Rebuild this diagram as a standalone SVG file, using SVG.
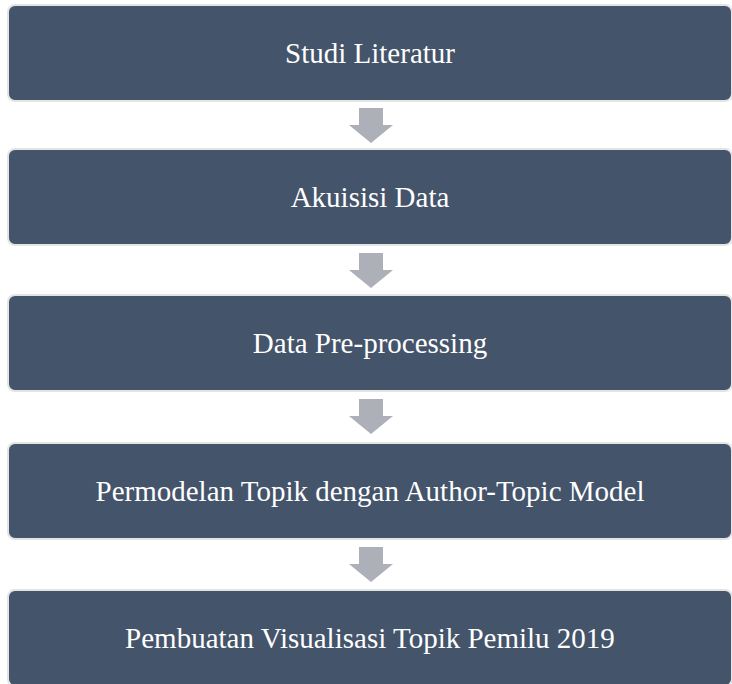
<svg xmlns="http://www.w3.org/2000/svg" width="732" height="684" viewBox="0 0 732 684">
  <defs>
    <style>
      .box { fill: #44546a; stroke: #e4e4e4; stroke-width: 2; }
      .label { font-family: "Liberation Serif", "Times New Roman", serif; font-size: 29px; fill: #ffffff; text-anchor: middle; }
      .arrow { fill: #adb0b8; }
    </style>
    <!-- block arrow pointing down, origin at top-centre -->
    <path id="down" d="M-12,0 H12 V17 H22 L0,35 L-22,17 H-12 Z"/>
  </defs>
  <rect width="732" height="684" fill="#ffffff"/>

  <g id="connectors">
    <use href="#down" class="arrow" x="371" y="108"/>
    <use href="#down" class="arrow" x="371" y="253"/>
    <use href="#down" class="arrow" x="371" y="399"/>
    <use href="#down" class="arrow" x="371" y="547"/>
  </g>

  <g id="studi-literatur">
    <rect class="box" x="8" y="5" width="724" height="96" rx="7"/>
    <text class="label" x="370" y="63">Studi Literatur</text>
  </g>
  <g id="akuisisi-data">
    <rect class="box" x="8" y="149" width="724" height="96" rx="7"/>
    <text class="label" x="370" y="207">Akuisisi Data</text>
  </g>
  <g id="data-preprocessing">
    <rect class="box" x="8" y="295" width="724" height="96" rx="7"/>
    <text class="label" x="370" y="353">Data Pre-processing</text>
  </g>
  <g id="permodelan-topik">
    <rect class="box" x="8" y="443" width="724" height="96" rx="7"/>
    <text class="label" x="370" y="501">Permodelan Topik dengan Author-Topic Model</text>
  </g>
  <g id="pembuatan-visualisasi">
    <rect class="box" x="8" y="590" width="724" height="96" rx="7"/>
    <text class="label" x="370" y="648">Pembuatan Visualisasi Topik Pemilu 2019</text>
  </g>
</svg>
